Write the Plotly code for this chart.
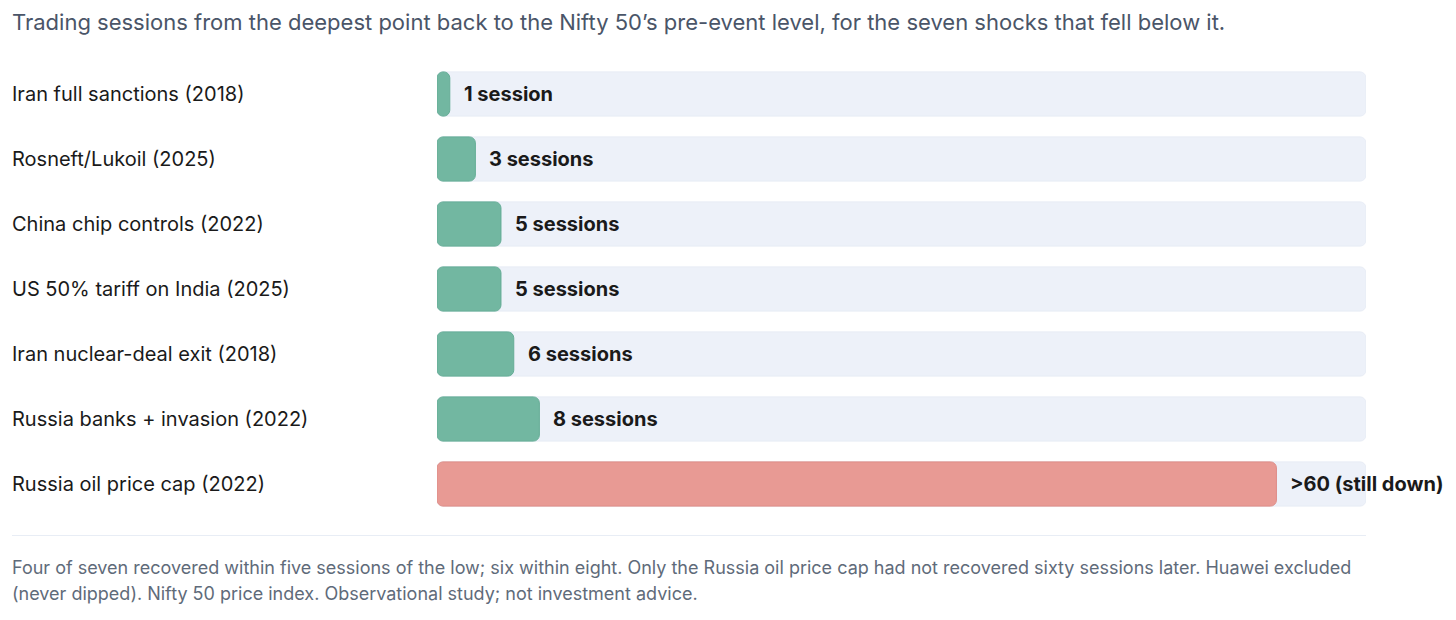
import plotly.graph_objects as go

# Data
events = [
    "Iran full sanctions (2018)",
    "Rosneft/Lukoil (2025)",
    "China chip controls (2022)",
    "US 50% tariff on India (2025)",
    "Iran nuclear-deal exit (2018)",
    "Russia banks + invasion (2022)",
    "Russia oil price cap (2022)",
]
sessions = [1, 3, 5, 5, 6, 8, 65.6]   # last one is open-ended (>60), drawn long
value_labels = ["1 session", "3 sessions", "5 sessions", "5 sessions",
                "6 sessions", "8 sessions", ">60 (still down)"]
recovered = [True, True, True, True, True, True, False]
track_max = 72.6

title_text = ("Trading sessions from the deepest point back to the Nifty 50\u2019s "
              "pre-event level, for the seven shocks that fell below it.")
footer_lines = [
    "Four of seven recovered within five sessions of the low; six within eight. "
    "Only the Russia oil price cap had not recovered sixty sessions later. Huawei excluded",
    "(never dipped). Nifty 50 price index. Observational study; not investment advice.",
]

GREEN = "#72B7A1"
RED = "#E89A94"
TRACK = "#EDF1F9"
FONT = "Inter"

# page body has an 8px margin, so the figure is a bit smaller than the window
W, H = 1440, 604
x0_px, x1_px = 429, 1358
y_top_px, y_bot_px = 53.5, 508.5

colors = [GREEN if r else RED for r in recovered]
edges = ["#65AD96" if r else "#DE8C86" for r in recovered]
zeros = [0] * len(events)

fig = go.Figure()

# tracks and bars on separate (overlaid) x axes so the overlay doesn't
# suppress corner rounding; explicit base gets both ends rounded
fig.add_trace(go.Bar(
    y=events, x=[track_max] * len(events), base=zeros, orientation="h", xaxis="x",
    marker=dict(color=TRACK, line=dict(color="#E7ECF5", width=1)),
    width=0.68, showlegend=False, hoverinfo="skip",
))
fig.add_trace(go.Bar(
    y=events, x=sessions, base=zeros, orientation="h", xaxis="x2",
    marker=dict(color=colors, line=dict(color=edges, width=1)),
    width=0.68, showlegend=False,
    customdata=value_labels,
    hovertemplate="%{y}: %{customdata}<extra></extra>",
))

annotations = []
for ev, val, lab in zip(events, sessions, value_labels):
    # value label after the bar end
    annotations.append(dict(
        x=val, y=ev, xref="x", yref="y", text=lab, showarrow=False,
        xanchor="left", yanchor="middle", xshift=12,
        font=dict(family=FONT, size=20, color="#1A1A1A", weight=700),
    ))
    # category label on the far left
    annotations.append(dict(
        x=2 / W, y=ev, xref="paper", yref="y", text=ev, showarrow=False,
        xanchor="left", yanchor="middle",
        font=dict(family=FONT, size=20, color="#1A1A1A"),
    ))

annotations.append(dict(
    x=2 / W, y=1 - 14 / H, xref="paper", yref="paper", text=title_text,
    showarrow=False, xanchor="left", yanchor="middle",
    font=dict(family=FONT, size=22, color="#4A5568"),
))
for i, line in enumerate(footer_lines):
    annotations.append(dict(
        x=2 / W, y=1 - (559 + 26 * i) / H, xref="paper", yref="paper", text=line,
        showarrow=False, xanchor="left", yanchor="middle", align="left",
        font=dict(family=FONT, size=18, color="#5F6B7A"),
    ))

xdom = [x0_px / W, x1_px / W]
hidden_x = dict(range=[0, track_max], domain=xdom, visible=False, fixedrange=True)

fig.update_layout(
    width=W, height=H,
    margin=dict(l=0, r=0, t=0, b=0),
    paper_bgcolor="white", plot_bgcolor="white",
    barmode="overlay", barcornerradius=6,
    annotations=annotations,
    shapes=[dict(type="line", xref="paper", yref="paper",
                 x0=4 / W, x1=x1_px / W, y0=1 - 527.5 / H, y1=1 - 527.5 / H,
                 line=dict(color="#E8EDF5", width=1))],
    xaxis=hidden_x,
    xaxis2=dict(hidden_x, overlaying="x"),
    yaxis=dict(autorange="reversed", domain=[1 - y_bot_px / H, 1 - y_top_px / H],
               visible=False, fixedrange=True),
)

fig.write_html("out.html")
